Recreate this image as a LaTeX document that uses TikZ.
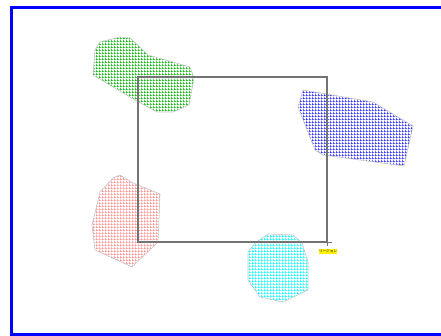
\documentclass[tikz,border=0pt]{standalone}
\usepackage{fontspec}
\newfontfamily\jpfont{Noto Sans CJK JP}
\usetikzlibrary{patterns}
\pgfdeclarepatternformonly{fine grid}{\pgfqpoint{0pt}{0pt}}{\pgfqpoint{3pt}{3pt}}{\pgfqpoint{3pt}{3pt}}{
    \pgfpathrectangle{\pgfqpoint{0pt}{0pt}}{\pgfqpoint{3pt}{0.7pt}}
    \pgfpathrectangle{\pgfqpoint{0pt}{0pt}}{\pgfqpoint{0.7pt}{3pt}}
    \pgfusepath{fill}
}
\begin{document}
\begin{tikzpicture}[x=1pt, y=-1pt,
        frame/.style={draw=blue, line width=3pt},
        blob/.style={draw=gray!45, line width=0.6pt, pattern=fine grid},
        region/.style={draw=black!55, line width=1.4pt},
        tag/.style={fill=yellow, inner sep=0.5pt, font=\jpfont\fontsize{3.6}{4}\selectfont}
    ]
        \useasboundingbox (0,0) rectangle (441,336);

        % Cadre bleu
        \draw[frame] (441,7.5) -- (11.5,7.5) -- (11.5,334.5) -- (441,334.5);

        % Formes hachurées
        \draw[blob, pattern color=green!70!black] (100,42) -- (120,37) -- (130,38) -- (143,50) -- (148,55)
            -- (190,67) -- (194,78) -- (189,105) -- (173,112) -- (157,112) -- (135,100) -- (93,75) -- (95,50) -- cycle;
        \draw[blob, pattern color=blue!85] (303,90) -- (373,102) -- (413,126) -- (404,166) -- (323,155)
            -- (315,150) -- (298,107) -- cycle;
        \draw[blob, pattern color=red!45] (120,175) -- (133,183) -- (160,194) -- (158,242) -- (132,267)
            -- (95,250) -- (92,225) -- (100,192) -- (113,178) -- cycle;
        \draw[blob, pattern color=cyan] (268,234) -- (293,235) -- (302,243) -- (308,262) -- (308,290)
            -- (283,302) -- (260,297) -- (248,280) -- (248,252) -- (255,243) -- cycle;

        % Rectangle de la région
        \coordinate (corner) at (327,242);
        \draw[region] (138,77) rectangle (corner);
        \draw[region, line width=0.8pt] (corner) -- ++(5,0);
        \draw[region, line width=0.8pt] (corner) -- ++(0,4);

        % Étiquette
        \node[tag] (label) at (328,251.5) {リージョン};
    \end{tikzpicture}
\end{document}
